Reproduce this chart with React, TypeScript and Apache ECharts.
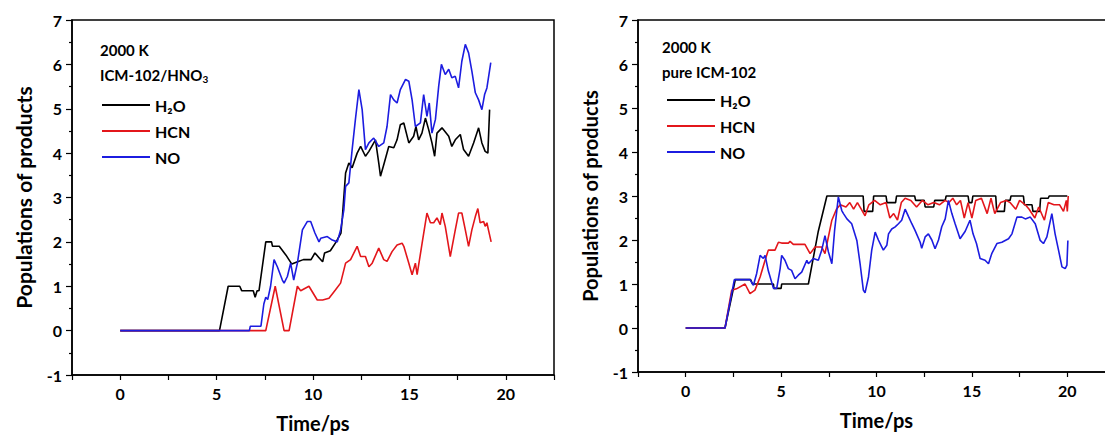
import React, { useEffect, useRef } from "react";
import * as echarts from "echarts";

// ---------- data: [time (ps), population] ----------
const seriesNames = ["H₂O", "HCN", "NO"];
const seriesColors = ["#000000", "#e3161b", "#1c1ce0"];
const xTickValues = [0, 5, 10, 15, 20];
const yTickValues = [-1, 0, 1, 2, 3, 4, 5, 6, 7];

const leftH2O = [[0,0],[5.15,0],[5.6,1],[6.2,1],[6.3,0.9],[6.9,0.9],[7.0,0.75],[7.1,0.9],[7.2,0.9],[7.55,2.0],[7.85,2.0],[7.9,1.9],[8.25,1.9],[8.6,1.7],[8.9,1.5],[9.2,1.55],[9.5,1.6],[9.9,1.6],[10.1,1.75],[10.3,1.65],[10.5,1.55],[10.6,1.75],[10.9,1.8],[11.2,2.0],[11.45,2.2],[11.52,2.54],[11.69,3.55],[11.86,3.78],[12.03,3.67],[12.29,4.0],[12.47,4.15],[12.72,3.93],[12.9,4.04],[13.24,4.3],[13.41,3.78],[13.5,3.48],[13.67,3.74],[13.93,4.15],[14.19,4.12],[14.36,4.3],[14.53,4.64],[14.71,4.68],[14.97,4.23],[15.22,4.38],[15.34,4.6],[15.48,4.3],[15.65,4.45],[15.83,4.79],[16.0,4.53],[16.17,4.23],[16.31,3.93],[16.43,4.45],[16.69,4.57],[17.04,4.38],[17.2,4.15],[17.38,4.3],[17.64,4.42],[17.81,4.08],[18.07,3.93],[18.33,4.23],[18.59,4.57],[18.76,4.23],[18.93,4.04],[19.07,4.0],[19.16,4.98]];
const leftHCN = [[0,0],[7.55,0],[8.04,1.0],[8.5,0],[8.76,0],[9.19,1.0],[9.36,0.9],[9.79,1.0],[9.97,0.87],[10.22,0.69],[10.5,0.69],[10.83,0.73],[11.17,0.92],[11.43,1.07],[11.69,1.52],[11.95,1.6],[12.29,1.9],[12.47,1.67],[12.72,1.67],[12.9,1.44],[13.07,1.52],[13.41,1.86],[13.67,1.6],[13.84,1.56],[14.1,1.78],[14.36,1.93],[14.62,1.97],[14.71,1.9],[14.97,1.52],[15.14,1.26],[15.31,1.52],[15.4,1.26],[15.66,1.97],[15.91,2.65],[16.09,2.43],[16.26,2.43],[16.43,2.54],[16.6,2.39],[16.69,2.65],[16.86,2.35],[17.12,1.67],[17.38,2.27],[17.55,2.65],[17.72,2.65],[17.9,2.27],[18.07,1.9],[18.24,2.27],[18.42,2.57],[18.55,2.75],[18.67,2.43],[18.85,2.46],[18.93,2.35],[19.02,2.43],[19.1,2.27],[19.24,2.0]];
const leftNO = [[0,0],[6.7,0],[6.75,0.1],[7.3,0.1],[7.45,0.6],[7.55,0.75],[7.65,0.7],[7.8,1.0],[7.98,1.6],[8.15,1.44],[8.41,1.14],[8.5,1.07],[8.67,1.22],[8.84,1.52],[9.0,1.14],[9.19,1.52],[9.45,2.27],[9.71,2.46],[9.88,2.46],[10.1,2.2],[10.31,2.0],[10.4,2.08],[10.74,2.12],[11.0,2.04],[11.26,2.0],[11.43,2.27],[11.6,2.72],[11.69,3.25],[11.86,3.33],[12.03,4.08],[12.2,4.76],[12.38,5.43],[12.55,4.98],[12.72,4.08],[12.9,4.23],[13.15,4.34],[13.41,4.15],[13.67,4.23],[13.84,4.6],[14.02,5.32],[14.19,5.2],[14.36,5.13],[14.53,5.43],[14.8,5.66],[14.97,5.62],[15.14,5.2],[15.31,4.6],[15.57,4.68],[15.74,5.32],[15.91,4.83],[16.03,5.13],[16.17,4.45],[16.35,4.76],[16.52,5.51],[16.66,6.0],[16.86,5.77],[17.04,5.89],[17.2,5.7],[17.38,5.73],[17.55,5.47],[17.72,6.07],[17.9,6.45],[18.07,6.26],[18.24,5.85],[18.42,5.36],[18.59,5.2],[18.76,4.98],[18.9,5.32],[19.02,5.47],[19.22,6.04]];

const rightH2O = [[0,0],[2.06,0],[2.6,1.1],[3.4,1.1],[3.5,1.0],[4.6,1.0],[4.62,0.9],[5.0,0.9],[5.03,1.0],[6.43,1.0],[6.95,2.2],[7.4,3.0],[9.3,3.0],[9.35,2.65],[9.8,2.65],[9.85,3.0],[10.5,3.0],[10.55,2.85],[11.0,2.85],[11.05,3.0],[12.0,3.0],[12.05,2.9],[12.5,2.9],[12.55,2.75],[13.0,2.75],[13.05,2.9],[13.6,2.9],[13.65,3.0],[14.8,3.0],[14.85,2.85],[15.0,2.85],[15.05,3.0],[16.25,3.0],[16.3,2.65],[16.7,2.65],[16.75,2.9],[17.0,2.9],[17.05,3.0],[17.7,3.0],[17.75,2.8],[18.15,2.8],[18.2,2.65],[18.55,2.65],[18.6,2.95],[19.0,2.95],[19.05,3.0],[20.0,3.0]];
const rightHCN = [[0,0],[2.06,0],[2.41,0.86],[2.66,0.89],[3.11,1.0],[3.37,0.78],[3.63,0.86],[3.9,1.16],[4.16,1.54],[4.33,1.77],[4.68,1.77],[4.86,1.95],[5.03,1.93],[5.38,1.93],[5.47,1.97],[5.64,1.9],[6.25,1.9],[6.52,1.69],[6.78,1.84],[7.13,1.84],[7.3,1.69],[7.66,2.45],[7.9,2.7],[8.1,2.8],[8.4,2.75],[8.6,2.85],[8.8,2.7],[9.0,2.85],[9.2,2.7],[9.4,2.55],[9.6,2.8],[9.9,2.9],[10.2,2.8],[10.5,2.85],[10.7,2.5],[10.9,2.6],[11.1,2.45],[11.3,2.85],[11.5,2.95],[11.8,2.9],[12.1,2.75],[12.4,2.9],[12.7,2.8],[13.0,2.85],[13.3,2.8],[13.6,2.9],[13.8,2.85],[14.0,2.95],[14.2,2.8],[14.4,2.9],[14.6,2.5],[14.8,2.85],[15.0,2.5],[15.2,2.9],[15.5,2.95],[15.8,2.6],[16.0,2.95],[16.2,2.6],[16.5,2.85],[16.8,2.9],[17.0,2.85],[17.3,2.7],[17.5,2.9],[17.8,2.8],[18.0,2.7],[18.3,2.5],[18.5,2.75],[18.8,2.45],[19.0,2.85],[19.3,2.8],[19.6,2.8],[19.8,2.65],[19.95,2.9],[20.0,2.65],[20.05,3.0]];
const rightNO = [[0,0],[2.06,0],[2.55,1.1],[3.37,1.1],[3.55,0.97],[3.72,1.24],[3.9,1.65],[4.07,1.58],[4.16,1.65],[4.33,1.3],[4.6,0.9],[4.77,0.9],[4.95,1.35],[5.03,1.65],[5.2,1.54],[5.38,1.35],[5.55,1.31],[5.73,1.12],[5.9,1.2],[6.08,1.27],[6.35,1.54],[6.43,1.46],[6.69,1.58],[6.95,1.54],[7.13,1.77],[7.3,2.1],[7.48,1.73],[7.66,1.46],[7.8,2.2],[8.0,2.98],[8.18,2.67],[8.27,2.6],[8.45,2.48],[8.7,2.37],[8.97,1.99],[9.14,1.46],[9.31,0.86],[9.4,0.8],[9.58,1.16],[9.75,1.77],[9.93,2.18],[10.1,2.0],[10.28,1.84],[10.36,1.77],[10.54,1.88],[10.63,2.14],[10.8,2.25],[10.98,2.3],[11.15,2.37],[11.32,2.45],[11.5,2.7],[11.68,2.53],[11.85,2.37],[12.02,2.22],[12.29,1.95],[12.37,1.81],[12.55,2.07],[12.72,2.14],[12.9,2.0],[13.07,1.8],[13.25,2.0],[13.42,2.3],[13.6,2.48],[13.77,2.9],[13.95,2.6],[14.12,2.37],[14.38,2.03],[14.65,2.2],[14.9,2.45],[15.06,2.14],[15.24,1.92],[15.43,1.58],[15.69,1.54],[15.87,1.46],[16.04,1.69],[16.31,1.92],[16.57,1.95],[16.92,2.03],[17.1,2.14],[17.36,2.52],[17.62,2.52],[17.8,2.48],[18.06,2.52],[18.32,2.37],[18.58,1.99],[18.75,1.92],[18.93,2.07],[19.19,2.6],[19.36,2.14],[19.54,1.77],[19.72,1.39],[19.89,1.35],[19.98,1.43],[20.03,1.99]];

const leftData = [leftH2O, leftHCN, leftNO];
const rightData = [rightH2O, rightHCN, rightNO];

const FONT = "Lato";

function xAxisFor(gridIndex: number) {
  return {
    type: "value",
    gridIndex,
    min: -2.5,
    max: 22.5,
    interval: 2.5,
    name: "Time/ps",
    nameLocation: "middle",
    nameGap: 38,
    nameTextStyle: { fontFamily: FONT, fontWeight: "bold", fontSize: 20, color: "#000" },
    axisLine: { show: true, onZero: false, lineStyle: { color: "#000", width: 1.5 } },
    axisTick: { show: true, length: 5, lineStyle: { color: "#000", width: 1.2 } },
    axisLabel: {
      margin: 10,
      fontFamily: FONT,
      fontWeight: "bold",
      fontSize: 16,
      color: "#000",
      formatter: (v: number) => (xTickValues.includes(v) ? String(v) : ""),
    },
    splitLine: { show: false },
  };
}

function yAxisFor(gridIndex: number, nameSize: number) {
  return {
    type: "value",
    gridIndex,
    min: -1,
    max: 7,
    interval: 1,
    name: "Populations of products",
    nameLocation: "middle",
    nameGap: 38,
    nameTextStyle: { fontFamily: FONT, fontWeight: "bold", fontSize: nameSize, color: "#000" },
    axisLine: { show: true, onZero: false, lineStyle: { color: "#000", width: 1.5 } },
    axisTick: { show: true, length: 6, lineStyle: { color: "#000", width: 1.2 } },
    minorTick: { show: true, splitNumber: 2, length: 3, lineStyle: { color: "#000", width: 1.2 } },
    axisLabel: {
      margin: 10,
      fontFamily: FONT,
      fontWeight: "bold",
      fontSize: 16,
      color: "#000",
      formatter: (v: number) => (yTickValues.includes(v) ? String(v) : ""),
    },
    splitLine: { show: false },
  };
}

function legendFor(left: number, top: number) {
  return {
    left,
    top,
    orient: "vertical",
    icon: "rect",
    itemWidth: 48,
    itemHeight: 2,
    itemGap: 10,
    selectedMode: false,
    data: seriesNames,
    textStyle: { fontFamily: FONT, fontWeight: "bold", fontSize: 16, color: "#000", lineHeight: 16 },
  };
}

function textEl(text: string, x: number, y: number) {
  return {
    type: "text",
    x,
    y,
    style: {
      text,
      font: `bold 15px ${FONT}`,
      fill: "#000",
      verticalAlign: "middle",
    },
  };
}

export default function App() {
  const ref = useRef<HTMLDivElement>(null);
  useEffect(() => {
    if (!ref.current) return;
    const chart = echarts.init(ref.current, undefined, { renderer: "svg" });
    const series: any[] = [];
    [leftData, rightData].forEach((set, gi) => {
      set.forEach((d, i) => {
        series.push({
          type: "line",
          name: seriesNames[i],
          xAxisIndex: gi,
          yAxisIndex: gi,
          data: d,
          showSymbol: false,
          symbol: "none",
          lineStyle: { color: seriesColors[i], width: 1.6 },
          itemStyle: { color: seriesColors[i] },
          z: 2 + i,
        });
      });
    });
    chart.setOption({
      animation: false,
      backgroundColor: "#ffffff",
      grid: [
        { left: 72, top: 20, width: 482, height: 355, outerBoundsMode: "none", containLabel: false, show: true, borderColor: "#000", borderWidth: 1.5 },
        { left: 638, top: 20, width: 477, height: 352, outerBoundsMode: "none", containLabel: false, show: true, borderColor: "#000", borderWidth: 1.5 },
      ],
      xAxis: [xAxisFor(0), xAxisFor(1)],
      yAxis: [yAxisFor(0, 21), yAxisFor(1, 20)],
      legend: [legendFor(97, 92), legendFor(662, 87)],
      graphic: [
        textEl("2000 K", 100, 50),
        {
          type: "text",
          x: 100,
          y: 75,
          style: {
            text: "ICM-102/HNO{s|3}",
            font: `bold 15px ${FONT}`,
            fill: "#000",
            verticalAlign: "middle",
            rich: { s: { fontFamily: FONT, fontWeight: "bold", fontSize: 10, fill: "#000", padding: [8, 0, 0, 0] } },
          },
        },
        textEl("2000 K", 662, 47),
        textEl("pure ICM-102", 662, 72),
      ],
      series,
    });
    return () => chart.dispose();
  }, []);
  return (
    <div
      ref={ref}
      style={{ position: "absolute", left: 0, top: 0, width: 1105, height: 438, background: "#fff" }}
    />
  );
}
